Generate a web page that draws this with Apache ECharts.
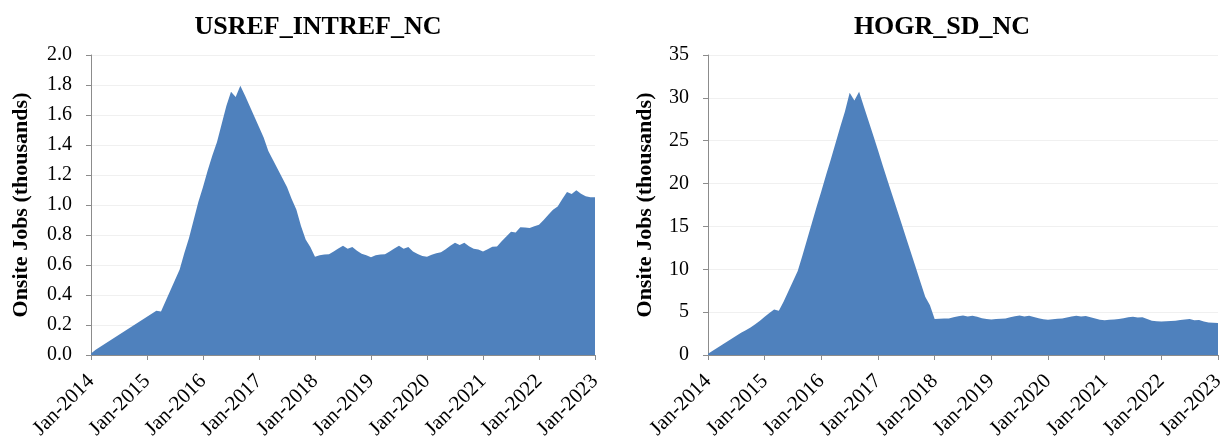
<!DOCTYPE html>
<html>
<head>
<meta charset="utf-8">
<script src="https://cdn.jsdelivr.net/npm/echarts@6/dist/echarts.min.js"></script>
<style>
html,body{margin:0;padding:0;background:#fff;}
#chart{width:1220px;height:440px;}
</style>
</head>
<body>
<div id="chart"></div>
<script>
const monthNames = ['Jan','Feb','Mar','Apr','May','Jun','Jul','Aug','Sep','Oct','Nov','Dec'];
const startYear = 2014;
const endYear = 2023;

const titleLeft = 'USREF_INTREF_NC';
const titleRight = 'HOGR_SD_NC';
const yAxisName = 'Onsite Jobs (thousands)';

const usrefValues = [
  0.01,0.035,0.055,0.075,0.095,0.115,0.135,0.155,0.175,0.195,0.215,0.235,0.255,0.275,0.295,0.29,
  0.36,0.43,0.50,0.57,0.68,0.78,0.90,1.02,1.12,1.23,1.33,1.42,1.54,1.66,1.755,1.72,
  1.795,1.73,1.66,1.59,1.52,1.45,1.36,1.30,1.24,1.18,1.12,1.04,0.97,0.86,0.77,0.72,
  0.655,0.665,0.67,0.672,0.69,0.71,0.729,0.708,0.72,0.695,0.675,0.665,0.652,0.665,0.67,0.671,
  0.69,0.71,0.728,0.708,0.72,0.69,0.673,0.66,0.655,0.668,0.678,0.685,0.705,0.728,0.748,0.733,
  0.748,0.725,0.708,0.703,0.69,0.705,0.722,0.724,0.758,0.79,0.822,0.817,0.852,0.85,0.847,0.858,
  0.868,0.9,0.935,0.968,0.99,1.04,1.087,1.073,1.098,1.075,1.058,1.052,1.051
];

const hogrValues = [
  0.15,0.5,0.85,1.2,1.55,1.9,2.25,2.6,2.9,3.2,3.6,4.0,4.45,4.9,5.3,5.15,
  6.2,7.4,8.6,9.8,11.6,13.5,15.4,17.3,19.1,21.0,22.8,24.7,26.6,28.4,30.6,29.7,
  30.7,29.0,27.3,25.6,23.9,22.1,20.4,18.7,17.0,15.3,13.6,11.9,10.2,8.5,6.8,5.8,
  4.2,4.22,4.25,4.27,4.4,4.52,4.62,4.5,4.58,4.45,4.3,4.2,4.15,4.2,4.23,4.27,
  4.4,4.52,4.62,4.5,4.58,4.42,4.28,4.18,4.12,4.18,4.22,4.27,4.38,4.5,4.58,4.5,
  4.55,4.4,4.25,4.12,4.04,4.1,4.15,4.2,4.3,4.4,4.47,4.38,4.4,4.2,4.0,3.93,
  3.92,3.95,3.98,4.0,4.08,4.15,4.2,4.04,4.08,3.9,3.78,3.75,3.73
];

const categories = [];
for (let y = startYear; y <= endYear; y++) {
  for (let m = 0; m < 12; m++) {
    if (y === endYear && m > 0) break;
    categories.push(monthNames[m] + '-' + y);
  }
}

const SERIF = '"Liberation Serif","Times New Roman",serif';
const AREA = '#4F81BD';
const AXIS = '#8c8c8c';

function xAxisCfg(gi) {
  return {
    type: 'category', gridIndex: gi, data: categories, boundaryGap: false,
    axisLine: {show: true, lineStyle: {color: AXIS, width: 1}},
    axisTick: {show: true, interval: 11, length: 5, lineStyle: {color: AXIS}},
    axisLabel: {interval: 11, rotate: 45, margin: 23,
      fontFamily: SERIF, fontSize: 21, color: '#000'},
    splitLine: {show: false}
  };
}
function yAxisCfg(gi, max, interval, dec) {
  return {
    type: 'value', gridIndex: gi, min: 0, max: max, interval: interval,
    name: yAxisName, nameLocation: 'middle', nameGap: gi === 0 ? 59 : 52,
    nameTextStyle: {fontFamily: SERIF, fontWeight: 'bold', fontSize: 22, color: '#000'},
    axisLine: {show: true, lineStyle: {color: AXIS, width: 1}},
    axisTick: {show: true, length: 5, lineStyle: {color: AXIS}},
    axisLabel: {fontFamily: SERIF, fontSize: 20, color: '#000', margin: 19,
      formatter: v => v.toFixed(dec)},
    splitLine: {show: true, lineStyle: {color: '#f0f0f0', width: 1}}
  };
}

const chart = echarts.init(document.getElementById('chart'), null, {renderer: 'canvas'});
chart.setOption({
  animation: false,
  backgroundColor: '#fff',
  title: [
    {text: titleLeft, left: 313, top: 9, textAlign: 'center',
     textStyle: {fontFamily: SERIF, fontWeight: 'bold', fontSize: 26, color: '#000'}},
    {text: titleRight, left: 937, top: 9, textAlign: 'center',
     textStyle: {fontFamily: SERIF, fontWeight: 'bold', fontSize: 26, color: '#000'}}
  ],
  grid: [
    {left: 91, right: 625, top: 55, bottom: 85, containLabel: false, outerBoundsMode: 'none'},
    {left: 708, right: 2, top: 55, bottom: 85, containLabel: false, outerBoundsMode: 'none'}
  ],
  xAxis: [xAxisCfg(0), xAxisCfg(1)],
  yAxis: [yAxisCfg(0, 2.0, 0.2, 1), yAxisCfg(1, 35, 5, 0)],
  series: [
    {type: 'line', xAxisIndex: 0, yAxisIndex: 0, data: usrefValues, symbol: 'none',
     lineStyle: {width: 0}, areaStyle: {color: AREA, opacity: 1}},
    {type: 'line', xAxisIndex: 1, yAxisIndex: 1, data: hogrValues, symbol: 'none',
     lineStyle: {width: 0}, areaStyle: {color: AREA, opacity: 1}}
  ]
});
</script>
</body>
</html>
